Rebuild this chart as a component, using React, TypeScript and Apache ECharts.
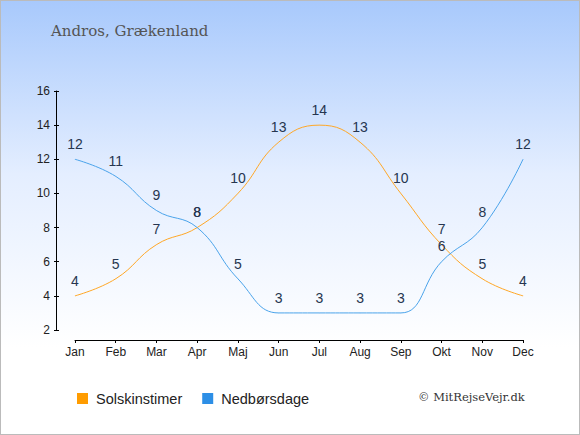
import React, { useEffect, useRef } from "react";
import * as echarts from "echarts";

const months = ["Jan", "Feb", "Mar", "Apr", "Maj", "Jun", "Jul", "Aug", "Sep", "Okt", "Nov", "Dec"];
const sunHours = [4, 5, 7, 8, 10, 13, 14, 13, 10, 7, 5, 4];
const rainDays = [12, 11, 9, 8, 5, 3, 3, 3, 3, 6, 8, 12];
const title = "Andros, Grækenland";
const sunName = "Solskinstimer";
const rainName = "Nedbørsdage";
const copyright = "© MitRejseVejr.dk";

const SUN = "#ffa726";
const RAIN = "#4aa3ea";
const SUN_LEG = "#ff9c00";
const RAIN_LEG = "#2d8fe6";

export default function App() {
  const ref = useRef<HTMLDivElement>(null);
  useEffect(() => {
    document.body.style.margin = "0";
    const chart = echarts.init(ref.current!, undefined, { renderer: "svg" });
    const axisFont = { fontFamily: "Liberation Sans, Arial, sans-serif", fontSize: 12, color: "#222" };
    const labelStyle = {
      show: true,
      position: "top" as const,
      distance: 8,
      fontFamily: "Liberation Sans, Arial, sans-serif",
      fontSize: 14,
      color: "#263650",
    };
    chart.setOption({
      animation: false,
      backgroundColor: "transparent",
      title: {
        text: title,
        left: 45,
        top: 17,
        textStyle: { fontFamily: "DejaVu Serif, serif", fontSize: 15, fontWeight: "normal", color: "#555" },
      },
      legend: {
        left: 71,
        top: 385,
        itemWidth: 11,
        itemHeight: 11,
        itemGap: 20,
        icon: "rect",
        textStyle: {
          fontFamily: "Liberation Sans, Arial, sans-serif",
          fontSize: 14.5,
          color: "#222",
          padding: [0, 0, 0, 3],
        },
        data: [
          { name: sunName, itemStyle: { color: SUN_LEG } },
          { name: rainName, itemStyle: { color: RAIN_LEG } },
        ],
      },
      graphic: [
        {
          type: "text",
          left: 417,
          top: 390,
          style: { text: copyright, font: "11.5px 'DejaVu Serif', serif", fill: "#333" },
        },
      ],
      grid: { left: 74, right: 56, top: 90, bottom: 104 },
      xAxis: [
        {
          type: "category",
          data: months,
          boundaryGap: false,
          offset: 10,
          axisLine: { show: true, lineStyle: { color: "#000", width: 1 } },
          axisTick: { show: true, length: 3, alignWithLabel: true, lineStyle: { color: "#000" } },
          axisLabel: { ...axisFont, margin: 6 },
          splitLine: { show: false },
        },
      ],
      yAxis: [
        {
          type: "value",
          min: 2,
          max: 16,
          interval: 2,
          offset: 19,
          axisLine: { show: true, lineStyle: { color: "#000", width: 1 } },
          axisTick: { show: true, length: 2, lineStyle: { color: "#000" } },
          axisLabel: { ...axisFont, margin: 6 },
          splitLine: { show: false },
        },
        {
          type: "value",
          position: "left",
          min: 2,
          max: 16,
          interval: 2,
          offset: 19,
          axisLine: { show: false },
          axisTick: { show: true, inside: true, length: 3, lineStyle: { color: "#000" } },
          axisLabel: { show: false },
          splitLine: { show: false },
        },
      ],
      series: [
        {
          name: sunName,
          type: "line",
          data: sunHours,
          smooth: 0.45,
          symbol: "circle",
          symbolSize: 0.5,
          showSymbol: true,
          lineStyle: { color: SUN, width: 1 },
          itemStyle: { color: SUN },
          label: labelStyle,
        },
        {
          name: rainName,
          type: "line",
          data: rainDays,
          smooth: 0.45,
          symbol: "circle",
          symbolSize: 0.5,
          showSymbol: true,
          lineStyle: { color: RAIN, width: 1 },
          itemStyle: { color: RAIN },
          label: labelStyle,
        },
      ],
    });
    return () => chart.dispose();
  }, []);
  return (
    <div
      style={{
        width: 580,
        height: 435,
        boxSizing: "border-box",
        border: "1px solid #bbb",
        background: "linear-gradient(to bottom, #a8c9fc 0%, #e4eeff 40%, #ffffff 80%)",
        position: "relative",
      }}
    >
      <div ref={ref} style={{ width: 578, height: 433 }} />
    </div>
  );
}
